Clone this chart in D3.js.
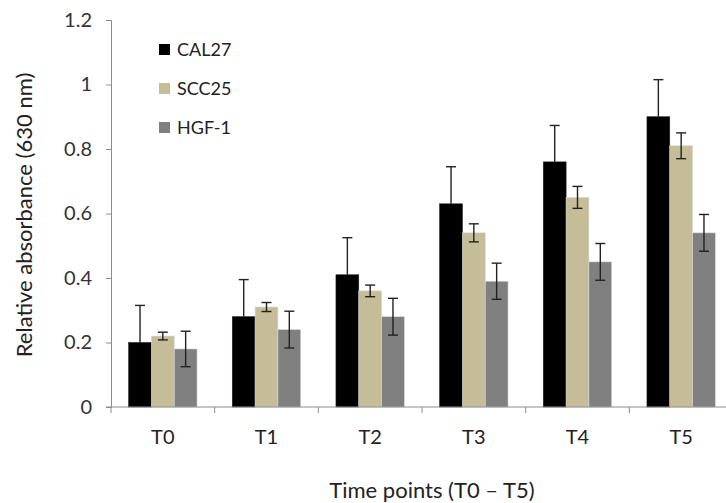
<!DOCTYPE html>
<html><head><meta charset="utf-8">
<script src="https://cdn.jsdelivr.net/npm/d3@7"></script>
<style>body{margin:0;background:#fff}svg{display:block}text{font-family:Lato,"Open Sans",sans-serif}</style>
</head><body><svg id="c" width="726" height="503"></svg>
<script>
const categories = ["T0","T1","T2","T3","T4","T5"];
const seriesNames = ["CAL27","SCC25","HGF-1"];
const cal27 = [0.20,0.28,0.41,0.63,0.76,0.90];
const scc25 = [0.22,0.31,0.36,0.54,0.65,0.81];
const hgf1 = [0.18,0.24,0.28,0.39,0.45,0.54];
const cal27Err = [0.115,0.115,0.115,0.115,0.113,0.115];
const scc25Err = [0.012,0.014,0.018,0.028,0.034,0.040];
const hgf1Err = [0.055,0.057,0.057,0.056,0.057,0.057];
const yTicks = [0,0.2,0.4,0.6,0.8,1,1.2];
const colors = ["#000000","#c4bd97","#808080"];

(function(){
const svg = d3.select("#c");
const mLeft = 111, mTop = 20, mBottom = 407, mRight = 733;
const x = d3.scaleBand().domain(categories).range([mLeft,mRight]).paddingInner(0.34).paddingOuter(0.17);
const y = d3.scaleLinear().domain([0,1.2]).range([mBottom,mTop]);
const xs = d3.scaleBand().domain(seriesNames).range([0,x.bandwidth()]);

const series = [
  {name:"CAL27", vals:cal27, err:cal27Err, upperOnly:true},
  {name:"SCC25", vals:scc25, err:scc25Err, upperOnly:false},
  {name:"HGF-1", vals:hgf1, err:hgf1Err, upperOnly:false}
];

const yAx = svg.append("g").attr("transform",`translate(${mLeft},0)`)
  .call(d3.axisLeft(y).tickValues(yTicks).tickFormat(d=>d3.format("")(d)).tickSize(5).tickPadding(14));
yAx.select(".domain").attr("stroke","#8c8c8c");
yAx.selectAll(".tick line").attr("stroke","#8c8c8c");
yAx.selectAll("text").attr("fill","#333").attr("font-size",20).attr("font-family","Lato,'Open Sans',sans-serif");

series.forEach((s,si)=>{
  const g = svg.append("g");
  g.selectAll("rect").data(categories).enter().append("rect")
    .attr("x",d=>x(d)+xs(s.name)).attr("width",xs.bandwidth())
    .attr("y",(d,i)=>y(s.vals[i])).attr("height",(d,i)=>y(0)-y(s.vals[i]))
    .attr("fill",colors[si]).attr("stroke",si===0?"#222":"#d8d8d8").attr("stroke-width",0.6);
  const eg = svg.append("g").attr("stroke","#222").attr("stroke-width",1.4);
  categories.forEach((c,i)=>{
    const cx = x(c)+xs(s.name)+xs.bandwidth()/2;
    const hi = s.vals[i]+s.err[i], lo = s.upperOnly ? s.vals[i] : s.vals[i]-s.err[i];
    eg.append("line").attr("x1",cx).attr("x2",cx).attr("y1",y(hi)).attr("y2",y(lo));
    eg.append("line").attr("x1",cx-5).attr("x2",cx+5).attr("y1",y(hi)).attr("y2",y(hi));
    if(!s.upperOnly) eg.append("line").attr("x1",cx-5).attr("x2",cx+5).attr("y1",y(lo)).attr("y2",y(lo));
  });
});

const xg = svg.append("g");
xg.append("line").attr("x1",mLeft-5).attr("x2",mRight).attr("y1",mBottom).attr("y2",mBottom).attr("stroke","#8c8c8c");
const step = x.step();
d3.range(categories.length+1).forEach(i=>{
  const xx = mLeft + i*step;
  xg.append("line").attr("x1",xx).attr("x2",xx).attr("y1",mBottom).attr("y2",mBottom+6).attr("stroke","#8c8c8c");
});
xg.selectAll("text").data(categories).enter().append("text")
  .attr("x",d=>x(d)+x.bandwidth()/2).attr("y",444).attr("text-anchor","middle")
  .attr("font-size",20).attr("fill","#222").text(d=>d);

svg.append("text").attr("transform","translate(32,215) rotate(-90)").attr("text-anchor","middle")
  .attr("font-size",22).attr("fill","#222").text("Relative absorbance (630 nm)");
svg.append("text").attr("x",432).attr("y",498).attr("text-anchor","middle")
  .attr("font-size",22).attr("fill","#222").text("Time points (T0 – T5)");

const lg = svg.append("g");
seriesNames.forEach((n,i)=>{
  const ly = 49 + i*39;
  lg.append("rect").attr("x",159).attr("y",ly-5).attr("width",11).attr("height",11).attr("fill",colors[i]);
  lg.append("text").attr("x",177).attr("y",ly+6.5).attr("font-size",18).attr("fill","#222").text(n);
});
})();
</script></body></html>
